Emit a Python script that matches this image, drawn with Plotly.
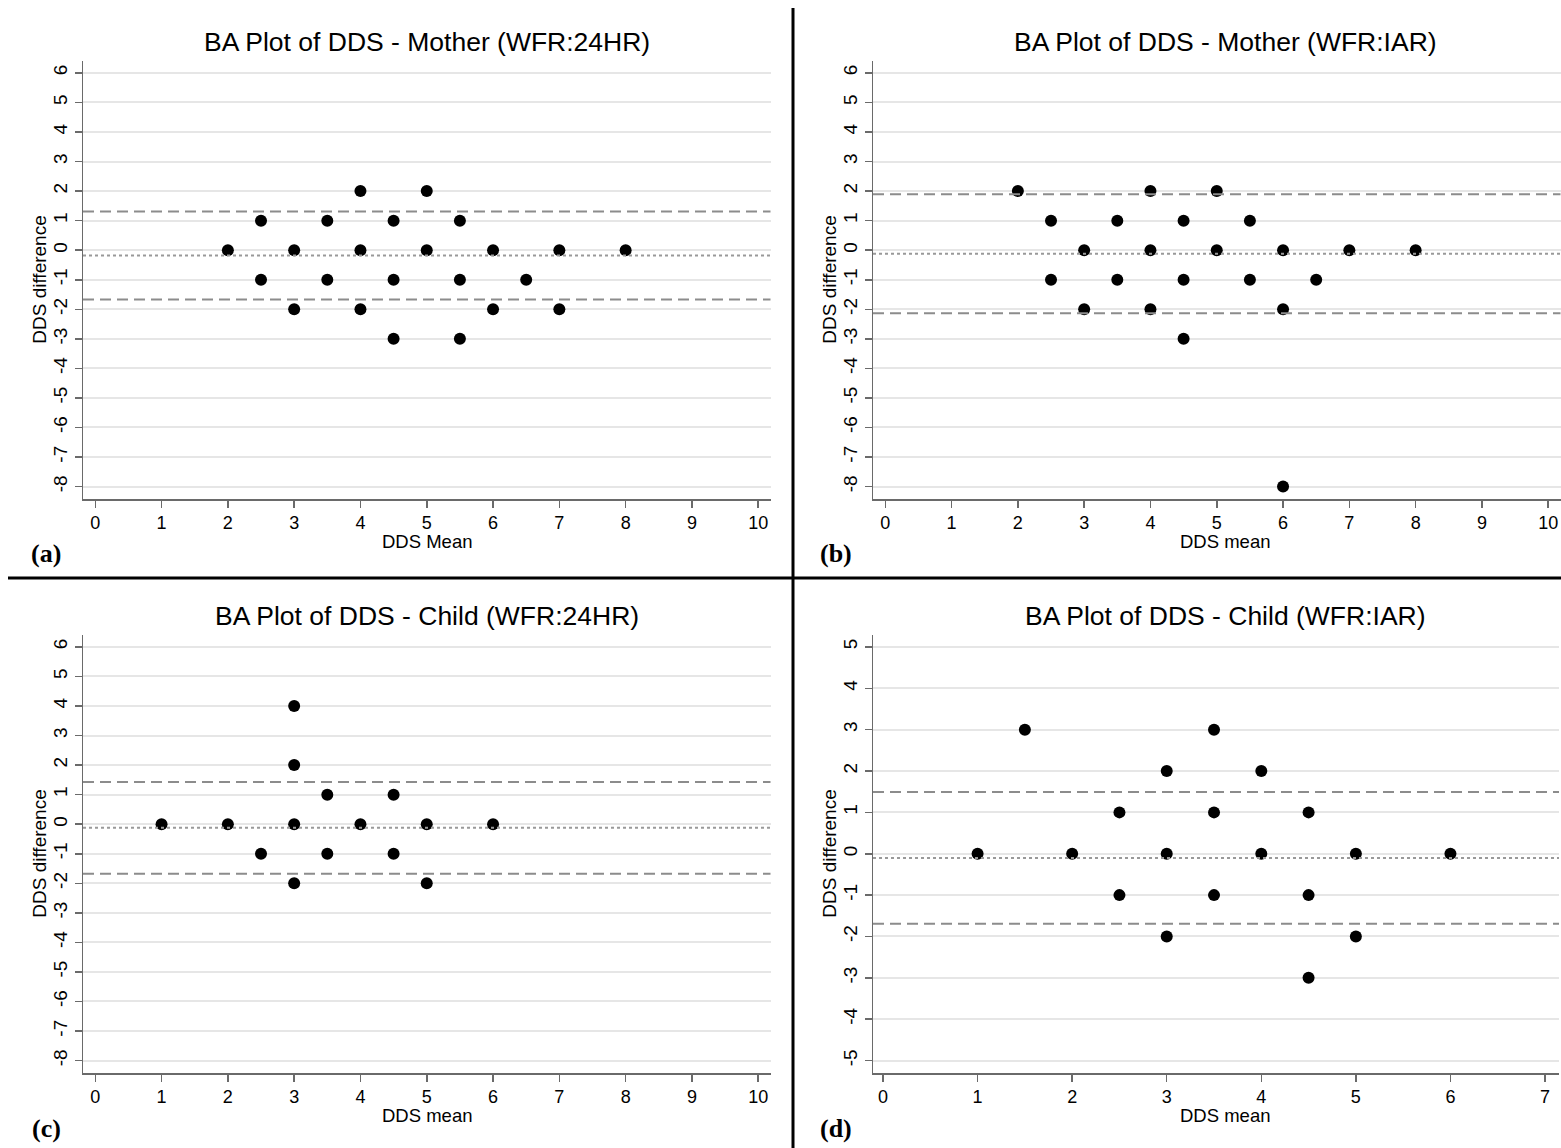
import plotly.graph_objects as go

OFF = 0  # body margin removed via post_script
W, H = 1561, 1148

# ---------------- data ----------------
a_mean = [2, 2.5, 2.5, 3, 3, 3.5, 3.5, 4, 4, 4, 4.5, 4.5, 4.5, 5, 5, 5.5, 5.5, 5.5, 6, 6, 6.5, 7, 7, 8]
a_diff = [0, 1, -1, 0, -2, 1, -1, 2, 0, -2, 1, -1, -3, 2, 0, 1, -1, -3, 0, -2, -1, 0, -2, 0]
a_lines = [1.31, -0.18, -1.67]  # upper LoA, mean diff, lower LoA

b_mean = [2, 2.5, 2.5, 3, 3, 3.5, 3.5, 4, 4, 4, 4.5, 4.5, 4.5, 5, 5, 5.5, 5.5, 6, 6, 6, 6.5, 7, 8]
b_diff = [2, 1, -1, 0, -2, 1, -1, 2, 0, -2, 1, -1, -3, 2, 0, 1, -1, 0, -2, -8, -1, 0, 0]
b_lines = [1.89, -0.12, -2.13]

c_mean = [1, 2, 2.5, 3, 3, 3, 3, 3.5, 3.5, 4, 4.5, 4.5, 5, 5, 6]
c_diff = [0, 0, -1, 4, 2, 0, -2, 1, -1, 0, 1, -1, 0, -2, 0]
c_lines = [1.43, -0.12, -1.68]

d_mean = [1, 1.5, 2, 2.5, 2.5, 3, 3, 3, 3.5, 3.5, 3.5, 4, 4, 4.5, 4.5, 4.5, 5, 5, 6]
d_diff = [0, 3, 0, 1, -1, 2, 0, -2, 3, 1, -1, 2, 0, 1, -1, -3, 0, -2, 0]
d_lines = [1.49, -0.10, -1.69]

titles = ["BA Plot of DDS - Mother (WFR:24HR)", "BA Plot of DDS - Mother (WFR:IAR)",
          "BA Plot of DDS - Child (WFR:24HR)", "BA Plot of DDS - Child (WFR:IAR)"]
xtitles = ["DDS Mean", "DDS mean", "DDS mean", "DDS mean"]
ytitle = "DDS difference"
panel_labels = ["(a)", "(b)", "(c)", "(d)"]

xticks_10 = list(range(0, 11))
xticks_7 = list(range(0, 8))
yticks_big = list(range(-8, 7))
yticks_small = list(range(-5, 6))

# ---------------- layout geometry (pixels in the screenshot) ----------------
panels = [
    dict(m=a_mean, d=a_diff, lines=a_lines, px=(83, 770.5), py=(60.5, 499), cx=427, xr=[-0.185, 10.185], yr=[-8.42, 6.42], xt=xticks_10, yt=yticks_big),
    dict(m=b_mean, d=b_diff, lines=b_lines, px=(873, 1560.5), py=(60.5, 499), cx=1225, xr=[-0.185, 10.185], yr=[-8.42, 6.42], xt=xticks_10, yt=yticks_big),
    dict(m=c_mean, d=c_diff, lines=c_lines, px=(83, 770.5), py=(634.5, 1073), cx=427, xr=[-0.185, 10.185], yr=[-8.42, 6.42], xt=xticks_10, yt=yticks_big),
    dict(m=d_mean, d=d_diff, lines=d_lines, px=(873, 1559), py=(634.5, 1073), cx=1225, xr=[-0.106, 7.148], yr=[-5.3, 5.3], xt=xticks_7, yt=yticks_small),
]

def fx(p):
    return (p - OFF) / W

def fy(p):
    return 1 - (p - OFF) / H

fig = go.Figure()
layout = dict(
    width=W, height=H, margin=dict(l=0, r=0, t=0, b=0),
    paper_bgcolor="white", plot_bgcolor="white", showlegend=False,
    font=dict(family="Liberation Sans, Arial, sans-serif", color="black"),
)
annotations = []
shapes = []

for i, p in enumerate(panels):
    n = i + 1
    xa = "x" if n == 1 else f"x{n}"
    ya = "y" if n == 1 else f"y{n}"
    xk = "xaxis" if n == 1 else f"xaxis{n}"
    yk = "yaxis" if n == 1 else f"yaxis{n}"
    x0, x1 = p["px"]
    y0, y1 = p["py"]
    layout[xk] = dict(
        domain=[fx(x0), min(fx(x1), 1.0)], range=p["xr"], anchor=ya,
        tickmode="array", tickvals=p["xt"], ticktext=[str(v) for v in p["xt"]],
        showgrid=False, zeroline=False, showline=True, linecolor="#6a6a6a", linewidth=1.5,
        ticks="outside", ticklen=7, tickwidth=1.5, tickcolor="#6a6a6a",
        tickfont=dict(size=18, color="black"), fixedrange=True,
    )
    layout[yk] = dict(
        domain=[fy(y1), fy(y0)], range=p["yr"], anchor=xa,
        tickmode="array", tickvals=p["yt"], ticktext=[str(v) for v in p["yt"]],
        tickangle=-90, showgrid=True, gridcolor="#e6e6e6", gridwidth=2,
        zeroline=False, showline=True, linecolor="#6a6a6a", linewidth=1.5,
        ticks="outside", ticklen=7, tickwidth=1.5, tickcolor="#6a6a6a",
        tickfont=dict(size=19, color="black"), fixedrange=True,
    )
    # limits of agreement and mean difference
    for j, val in enumerate(p["lines"]):
        shapes.append(dict(
            type="line", xref=f"{xa} domain", yref=ya, x0=0, x1=1, y0=val, y1=val,
            line=dict(color="#8c8c8c" if j != 1 else "#999999", width=2,
                      dash="11px,6px" if j != 1 else "3px,3px"),
            layer="above",
        ))
    fig.add_trace(go.Scatter(
        x=p["m"], y=p["d"], mode="markers", xaxis=xa, yaxis=ya,
        marker=dict(color="black", size=12, line=dict(width=0)),
        cliponaxis=False, hoverinfo="skip",
    ))
    cx = p["cx"]
    # title
    annotations.append(dict(
        text=titles[i], xref="paper", yref="paper", x=fx(cx), y=fy(y0 - 18.5),
        xanchor="center", yanchor="middle", showarrow=False,
        font=dict(size=26.5, color="black"),
    ))
    # x axis title
    annotations.append(dict(
        text=xtitles[i], xref="paper", yref="paper", x=fx(cx), y=fy(y1 + 42.5),
        xanchor="center", yanchor="middle", showarrow=False,
        font=dict(size=18.5, color="black"),
    ))
    # y axis title
    annotations.append(dict(
        text=ytitle, xref="paper", yref="paper", x=fx(x0 - 43), y=fy((y0 + y1) / 2),
        xanchor="center", yanchor="middle", showarrow=False, textangle=-90,
        font=dict(size=19, color="black"),
    ))
    # panel letter
    annotations.append(dict(
        text=f"<b>{panel_labels[i]}</b>", xref="paper", yref="paper", x=fx(x0 - 37), y=fy(y1 + 55),
        xanchor="center", yanchor="middle", showarrow=False,
        font=dict(size=26, color="black", family="Liberation Serif, Times New Roman, serif"),
    ))

# panel dividers
shapes.append(dict(type="line", xref="paper", yref="paper", x0=fx(793), x1=fx(793), y0=fy(8), y1=fy(1148),
                   line=dict(color="black", width=3)))
shapes.append(dict(type="line", xref="paper", yref="paper", x0=fx(8), x1=fx(1561), y0=fy(578), y1=fy(578),
                   line=dict(color="black", width=3)))

layout["annotations"] = annotations
layout["shapes"] = shapes
fig.update_layout(**layout)
fig.write_html(
    "out.html",
    config={"displayModeBar": False, "staticPlot": True},
    post_script="document.body.style.margin='0px';document.body.style.overflow='hidden';",
)
